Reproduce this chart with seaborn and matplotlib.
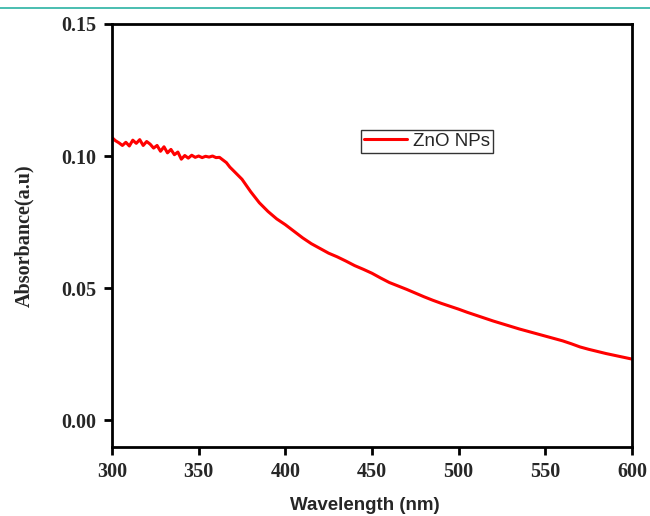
import numpy as np
import pandas as pd
import seaborn as sns
import matplotlib.pyplot as plt
from matplotlib.lines import Line2D

# noisy plateau, 2 nm steps
wl_a = list(range(300, 372, 2))
abs_a = [0.1070, 0.1058, 0.1050, 0.1040, 0.1052, 0.1038, 0.1060, 0.1048, 0.1062, 0.1040,
         0.1055, 0.1045, 0.1030, 0.1040, 0.1018, 0.1035, 0.1012, 0.1025, 0.1005, 0.1015,
         0.0988, 0.1002, 0.0992, 0.1003, 0.0995, 0.1000, 0.0994, 0.0999, 0.0996, 0.1000,
         0.0994, 0.0995, 0.0985, 0.0975, 0.0958, 0.0945]
# smooth tail, 5 nm steps
wl_b = list(range(375, 605, 5))
abs_b = [0.0912, 0.0865, 0.0823, 0.0790, 0.0762, 0.0740, 0.0715, 0.0690, 0.0668, 0.0650,
         0.0632, 0.0618, 0.0602, 0.0585, 0.0571, 0.0556, 0.0538, 0.0521, 0.0508, 0.0495,
         0.0481, 0.0467, 0.0454, 0.0442, 0.0431, 0.0420, 0.0408, 0.0397, 0.0386, 0.0375,
         0.0365, 0.0355, 0.0345, 0.0336, 0.0327, 0.0318, 0.0309, 0.0300, 0.0289, 0.0277,
         0.0268, 0.0260, 0.0252, 0.0245, 0.0238, 0.0231]

df = pd.DataFrame({"Wavelength": wl_a + wl_b, "Absorbance": abs_a + abs_b})

sns.set_style("ticks")
fig = plt.figure(figsize=(6.5, 5.16), dpi=100)
ax = fig.add_axes([0.1723, 0.1337, 0.8, 0.8198])

sns.lineplot(data=df, x="Wavelength", y="Absorbance", color="#ff0000",
             linewidth=2.2, label="ZnO NPs", ax=ax)

ax.set_xlim(300, 600)
ax.set_ylim(-0.0102, 0.15)
ax.set_xticks([300, 350, 400, 450, 500, 550, 600])
ax.set_yticks([0.0, 0.05, 0.10, 0.15])
ax.set_yticklabels(["0.00", "0.05", "0.10", "0.15"])

for s in ax.spines.values():
    s.set_linewidth(2)
    s.set_color("black")
ax.tick_params(direction="out", length=6, width=2, color="black", pad=5)
for lab in ax.get_xticklabels() + ax.get_yticklabels():
    lab.set_fontfamily("Liberation Serif")
    lab.set_fontweight("bold")
    lab.set_fontsize(14.5)

ax.set_xlabel("Wavelength (nm)", fontfamily="Liberation Sans", fontweight="bold",
              fontsize=13.5)
ax.set_ylabel("Absorbance(a.u)", fontfamily="Liberation Serif", fontweight="bold",
              fontsize=14.5)
ax.xaxis.set_label_coords(0.486, -0.118)
ax.yaxis.set_label_coords(-0.15, 0.5)

leg = ax.legend(loc="center", bbox_to_anchor=(0.606, 0.723), frameon=True,
                fancybox=False, edgecolor="black", handlelength=2.3,
                handletextpad=0.3, borderpad=0.15,
                prop={"family": "Liberation Sans", "size": 13.5})
leg.get_frame().set_linewidth(1)

fig.add_artist(Line2D([0, 1], [1 - 8 / 516, 1 - 8 / 516], color="#2ab3a3",
                      linewidth=1.2, transform=fig.transFigure))

fig.savefig("out.png", dpi=100)
